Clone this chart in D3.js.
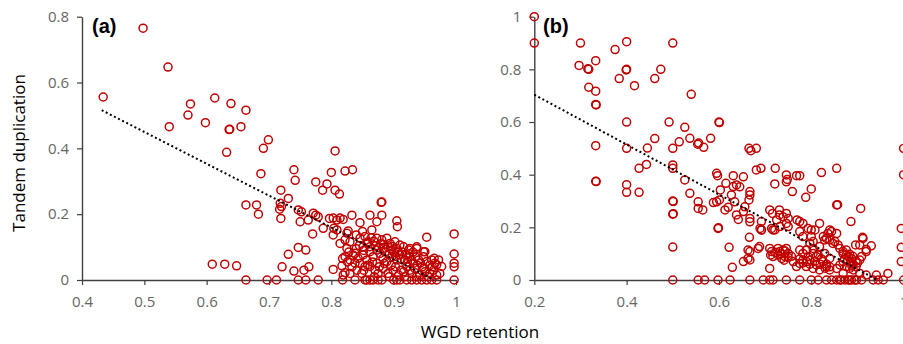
<!DOCTYPE html>
<html>
<head>
<meta charset="utf-8">
<script src="https://cdn.jsdelivr.net/npm/d3@7"></script>
<style>
  body { margin: 0; background: #fff; }
  #chart { width: 903px; height: 344px; }
</style>
</head>
<body>
<div id="chart"></div>
<script>
// panel (a): [WGD retention, tandem duplication]
const pointsA = [
  [0.434, 0.556], [0.498, 0.765], [0.538, 0.647], [0.540, 0.466], [0.570, 0.501], [0.574, 0.535],
  [0.598, 0.478], [0.613, 0.553], [0.639, 0.536], [0.636, 0.457], [0.637, 0.458], [0.655, 0.466],
  [0.663, 0.516], [0.632, 0.388], [0.699, 0.426], [0.691, 0.400], [0.806, 0.392], [0.687, 0.323],
  [0.740, 0.335], [0.800, 0.327], [0.822, 0.331], [0.834, 0.335], [0.742, 0.303], [0.775, 0.298],
  [0.793, 0.292], [0.786, 0.273], [0.806, 0.273], [0.813, 0.261], [0.719, 0.273], [0.731, 0.248],
  [0.718, 0.233], [0.720, 0.223], [0.717, 0.215], [0.719, 0.187], [0.663, 0.228], [0.680, 0.228],
  [0.683, 0.200], [0.747, 0.213], [0.752, 0.207], [0.750, 0.177], [0.763, 0.182], [0.771, 0.203],
  [0.775, 0.197], [0.779, 0.192], [0.770, 0.140], [0.787, 0.157], [0.797, 0.187], [0.809, 0.182],
  [0.804, 0.157], [0.809, 0.152], [0.819, 0.184], [0.833, 0.197], [0.827, 0.149], [0.846, 0.174],
  [0.862, 0.197], [0.873, 0.177], [0.880, 0.236], [0.881, 0.237], [0.881, 0.197], [0.865, 0.152],
  [0.905, 0.180], [0.906, 0.162], [0.953, 0.130], [0.997, 0.140], [0.997, 0.079], [0.997, 0.051],
  [0.997, 0.040], [0.609, 0.048], [0.629, 0.048], [0.648, 0.043], [0.731, 0.078], [0.747, 0.099],
  [0.759, 0.091], [0.721, 0.040], [0.740, 0.027], [0.756, 0.030], [0.764, 0.040], [0.803, 0.032],
  [0.817, 0.043], [0.822, 0.022], [0.803, 0.188], [0.814, 0.188], [0.803, 0.137],
  // dense cluster
  [0.825, 0.142], [0.822, 0.122], [0.814, 0.111], [0.830, 0.116], [0.840, 0.137], [0.846, 0.127],
  [0.850, 0.147], [0.854, 0.132], [0.859, 0.116], [0.862, 0.101], [0.873, 0.127], [0.881, 0.122],
  [0.889, 0.127], [0.894, 0.111], [0.902, 0.116], [0.910, 0.106], [0.916, 0.101], [0.924, 0.091],
  [0.926, 0.096], [0.937, 0.096], [0.948, 0.086], [0.825, 0.096], [0.822, 0.071], [0.830, 0.061],
  [0.838, 0.081], [0.843, 0.066], [0.851, 0.076], [0.857, 0.061], [0.862, 0.086], [0.867, 0.071],
  [0.873, 0.051], [0.878, 0.081], [0.883, 0.066], [0.889, 0.056], [0.897, 0.071], [0.905, 0.061],
  [0.910, 0.076], [0.918, 0.061], [0.926, 0.071], [0.932, 0.051], [0.940, 0.061], [0.948, 0.071],
  [0.953, 0.056], [0.961, 0.061], [0.966, 0.051], [0.972, 0.061], [0.977, 0.041], [0.965, 0.066],
  [0.862, 0.041], [0.870, 0.030], [0.875, 0.020], [0.883, 0.035], [0.891, 0.020], [0.899, 0.030],
  [0.908, 0.015], [0.916, 0.025], [0.921, 0.041], [0.929, 0.020], [0.934, 0.035], [0.942, 0.015],
  [0.950, 0.025], [0.958, 0.020], [0.964, 0.030], [0.969, 0.015], [0.974, 0.020], [0.841, 0.030],
  [0.849, 0.020], [0.854, 0.041], [0.838, 0.051], [0.851, 0.101], [0.873, 0.091], [0.883, 0.096],
  [0.897, 0.091], [0.905, 0.096],
  [0.845, 0.105], [0.852, 0.090], [0.858, 0.112], [0.864, 0.128], [0.868, 0.118], [0.871, 0.104],
  [0.876, 0.098], [0.879, 0.110], [0.884, 0.108], [0.887, 0.085], [0.891, 0.100], [0.893, 0.078],
  [0.898, 0.102], [0.900, 0.085], [0.903, 0.072], [0.907, 0.088], [0.912, 0.064], [0.914, 0.085],
  [0.920, 0.076], [0.922, 0.055], [0.925, 0.080], [0.928, 0.060], [0.931, 0.085], [0.935, 0.070],
  [0.938, 0.045], [0.943, 0.052], [0.946, 0.040], [0.950, 0.086], [0.937, 0.101], [0.958, 0.045],
  [0.969, 0.046], [0.846, 0.050], [0.852, 0.030], [0.858, 0.045], [0.866, 0.055], [0.869, 0.010],
  [0.877, 0.040], [0.885, 0.050], [0.893, 0.010], [0.896, 0.045], [0.903, 0.040], [0.912, 0.030],
  [0.918, 0.010], [0.926, 0.030], [0.937, 0.010], [0.948, 0.035], [0.955, 0.010], [0.962, 0.040],
  [0.840, 0.095], [0.835, 0.075], [0.828, 0.085], [0.833, 0.040], [0.826, 0.055], [0.818, 0.065],
  [0.830, 0.020], [0.819, 0.015],
  // zero row
  [0.663, 0], [0.697, 0], [0.712, 0], [0.747, 0], [0.759, 0], [0.779, 0], [0.818, 0], [0.838, 0],
  [0.854, 0], [0.857, 0], [0.862, 0], [0.867, 0], [0.875, 0], [0.881, 0], [0.900, 0], [0.905, 0],
  [0.910, 0], [0.921, 0], [0.929, 0], [0.937, 0], [0.945, 0], [0.953, 0], [0.961, 0], [0.969, 0],
  [0.997, 0]
];

// panel (b)
const pointsB = [
  [0.200, 1.000], [0.200, 0.900], [0.300, 0.900], [0.297, 0.815], [0.318, 0.800], [0.316, 0.802],
  [0.333, 0.833], [0.318, 0.732], [0.333, 0.717], [0.333, 0.667], [0.334, 0.665], [0.333, 0.510],
  [0.375, 0.875], [0.400, 0.905], [0.400, 0.800], [0.399, 0.798], [0.384, 0.765], [0.417, 0.738],
  [0.461, 0.765], [0.474, 0.800], [0.500, 0.900], [0.400, 0.600], [0.400, 0.500], [0.461, 0.537],
  [0.445, 0.501], [0.427, 0.424], [0.443, 0.439], [0.492, 0.600], [0.500, 0.500], [0.514, 0.525],
  [0.526, 0.580], [0.537, 0.538], [0.540, 0.705], [0.500, 0.437], [0.500, 0.424],
  [0.333, 0.375], [0.334, 0.374], [0.400, 0.362], [0.400, 0.333], [0.427, 0.333], [0.526, 0.380],
  [0.537, 0.329], [0.500, 0.300], [0.501, 0.298], [0.500, 0.250], [0.501, 0.252], [0.500, 0.125],
  [0.600, 0.600], [0.601, 0.598], [0.556, 0.520], [0.554, 0.516], [0.567, 0.504], [0.582, 0.538],
  [0.665, 0.500], [0.669, 0.491], [0.681, 0.500], [0.681, 0.418], [0.691, 0.424], [0.722, 0.424],
  [0.822, 0.408], [0.855, 0.424], [1.000, 0.500], [1.000, 0.400], [0.595, 0.405], [0.597, 0.396],
  [0.631, 0.396], [0.653, 0.392], [0.746, 0.399], [0.768, 0.396], [0.775, 0.396],
  [0.555, 0.297], [0.555, 0.272], [0.565, 0.266], [0.598, 0.196], [0.599, 0.198], [0.588, 0.294],
  [0.595, 0.297], [0.601, 0.304], [0.603, 0.342], [0.615, 0.367], [0.622, 0.124], [0.613, 0.266],
  [0.620, 0.276], [0.627, 0.323], [0.631, 0.355], [0.638, 0.361], [0.634, 0.297], [0.645, 0.354],
  [0.638, 0.247], [0.642, 0.230], [0.653, 0.260], [0.656, 0.278], [0.667, 0.336], [0.667, 0.323],
  [0.665, 0.304], [0.667, 0.234], [0.667, 0.221], [0.666, 0.162], [0.663, 0.114], [0.667, 0.108],
  [0.663, 0.082], [0.667, 0.076], [0.653, 0.070], [0.629, 0.048], [0.685, 0.120], [0.689, 0.196],
  [0.692, 0.190], [0.721, 0.365], [0.746, 0.373], [0.748, 0.382], [0.759, 0.336], [0.788, 0.314],
  [0.800, 0.346], [0.855, 0.285], [0.857, 0.286], [0.907, 0.272], [0.886, 0.222], [0.995, 0.196],
  [0.995, 0.124], [0.995, 0.070], [0.710, 0.266], [0.716, 0.253], [0.731, 0.266], [0.731, 0.247],
  [0.739, 0.240], [0.725, 0.228], [0.746, 0.253], [0.750, 0.234], [0.746, 0.215], [0.750, 0.203],
  [0.714, 0.196], [0.721, 0.190], [0.732, 0.203], [0.710, 0.120], [0.714, 0.108], [0.712, 0.095],
  [0.717, 0.089], [0.728, 0.120], [0.732, 0.108], [0.739, 0.114], [0.746, 0.120], [0.750, 0.101],
  [0.736, 0.082], [0.743, 0.089], [0.710, 0.044], [0.769, 0.228], [0.775, 0.222], [0.775, 0.184],
  [0.782, 0.165], [0.793, 0.196], [0.800, 0.190], [0.800, 0.165], [0.804, 0.146], [0.818, 0.215],
  [0.826, 0.165], [0.833, 0.158], [0.840, 0.152], [0.847, 0.139], [0.836, 0.177], [0.844, 0.184],
  [0.855, 0.177], [0.851, 0.146], [0.858, 0.133], [0.862, 0.120], [0.869, 0.108], [0.876, 0.114],
  [0.880, 0.089], [0.887, 0.082], [0.896, 0.133], [0.905, 0.133], [0.911, 0.162], [0.930, 0.130],
  [0.919, 0.116], [0.909, 0.089], [0.905, 0.076], [0.888, 0.053], [0.883, 0.044], [0.966, 0.025],
  [0.761, 0.070], [0.768, 0.051], [0.775, 0.063], [0.782, 0.076], [0.789, 0.051], [0.797, 0.076],
  [0.804, 0.044], [0.811, 0.057], [0.818, 0.038], [0.833, 0.051], [0.840, 0.038], [0.855, 0.044],
  [0.862, 0.057], [0.869, 0.025], [0.876, 0.051], [0.891, 0.038], [0.775, 0.114], [0.782, 0.101],
  [0.789, 0.114], [0.793, 0.089], [0.804, 0.101], [0.811, 0.089], [0.818, 0.127], [0.829, 0.101],
  [0.840, 0.082], [0.826, 0.070], [0.905, 0.025], [0.919, 0.019], [0.941, 0.019],
  [0.692, 0.222], [0.692, 0.190], [0.717, 0.190], [0.782, 0.215], [0.808, 0.190], [0.840, 0.190],
  [0.829, 0.152], [0.790, 0.114], [0.797, 0.139], [0.804, 0.120], [0.688, 0.127], [0.722, 0.105],
  [0.728, 0.095], [0.735, 0.100], [0.743, 0.110], [0.750, 0.085], [0.741, 0.075], [0.757, 0.090],
  [0.912, 0.158], [0.919, 0.108], [0.869, 0.100], [0.876, 0.095], [0.883, 0.098], [0.890, 0.090],
  [0.872, 0.080], [0.879, 0.075], [0.886, 0.070], [0.897, 0.072], [0.890, 0.060], [0.900, 0.065],
  [0.869, 0.070], [0.897, 0.050], [0.815, 0.095], [0.822, 0.080], [0.808, 0.070], [0.819, 0.060],
  [0.833, 0.060], [0.840, 0.050], [0.830, 0.045], [0.797, 0.060], [0.790, 0.070], [0.782, 0.065],
  [0.775, 0.080],
  // zero row
  [0.500, 0], [0.555, 0], [0.569, 0], [0.598, 0], [0.624, 0], [0.667, 0], [0.696, 0], [0.710, 0],
  [0.717, 0], [0.746, 0], [0.775, 0], [0.800, 0], [0.815, 0], [0.833, 0], [0.844, 0], [0.855, 0],
  [0.862, 0], [0.865, 0], [0.873, 0], [0.880, 0], [0.883, 0], [0.887, 0], [0.894, 0], [0.898, 0],
  [0.909, 0], [0.934, 0], [0.945, 0], [0.956, 0], [1.000, 0]
];

// linear trend lines (start, end where they hit 0)
const trendA = [[0.4316, 0.516], [0.965, 0]];
const trendB = [[0.2, 0.704], [0.943, 0]];

const xTicksA = [0.4, 0.5, 0.6, 0.7, 0.8, 0.9, 1];
const yTicksA = [0, 0.2, 0.4, 0.6, 0.8];
const xTicksB = [0.2, 0.4, 0.6, 0.8, 1];
const yTicksB = [0, 0.2, 0.4, 0.6, 0.8, 1];

const width = 903;
const height = 344;
const tickFmt = d => (d === 0 || d === 1) ? String(d) : d.toFixed(1);

const svg = d3
  .select('#chart')
  .append('svg')
  .attr('width', width)
  .attr('height', height);

function drawPanel(opts) {
  const xScale = d3.scaleLinear().domain(opts.xDomain).range(opts.xRange);
  const yScale = d3.scaleLinear().domain(opts.yDomain).range([280, 16.7]);

  const g = svg.append('g');

  const yAxis = g
    .append('g')
    .attr('transform', `translate(${opts.xRange[0]},0)`)
    .call(d3.axisLeft(yScale).tickValues(opts.yTicks).tickFormat(tickFmt).tickSize(5).tickSizeOuter(0).tickPadding(8));

  const xAxis = g
    .append('g')
    .attr('transform', `translate(0,${yScale(0)})`)
    .call(d3.axisBottom(xScale).tickValues(opts.xTicks).tickFormat(tickFmt).tickSize(5).tickSizeOuter(0).tickPadding(11));

  [xAxis, yAxis].forEach(a => {
    a.select('.domain').attr('stroke', '#404040').attr('stroke-width', 1.4);
    a.selectAll('.tick line').attr('stroke', '#404040').attr('stroke-width', 1.2);
    a.selectAll('text')
      .attr('fill', '#666666')
      .attr('font-family', 'Open Sans, sans-serif')
      .attr('font-size', 15);
  });

  // markers
  g.selectAll('circle')
    .data(opts.points)
    .enter()
    .append('circle')
    .attr('cx', d => xScale(d[0]))
    .attr('cy', d => yScale(d[1]))
    .attr('r', 4)
    .attr('fill', 'none')
    .attr('stroke', '#C00000')
    .attr('stroke-width', 1.5);

  // trend line
  const lineFunc = d3.line().x(d => xScale(d[0])).y(d => yScale(d[1]));
  g.append('path')
    .attr('d', lineFunc(opts.trend))
    .attr('stroke', '#000')
    .attr('stroke-width', 2)
    .attr('stroke-dasharray', '2,2.6')
    .attr('fill', 'none');

  // panel label
  g.append('text')
    .attr('x', opts.labelX)
    .attr('y', 33)
    .attr('font-family', 'Liberation Sans, Arial, sans-serif')
    .attr('font-weight', 'bold')
    .attr('font-size', 20)
    .attr('fill', '#000')
    .text(opts.label);
}

drawPanel({
  points: pointsA, trend: trendA, xDomain: [0.4, 1], xRange: [82, 456],
  yDomain: [0, 0.8], xTicks: xTicksA, yTicks: yTicksA, label: '(a)', labelX: 92
});

drawPanel({
  points: pointsB, trend: trendB, xDomain: [0.2, 1], xRange: [534.3, 903.6],
  yDomain: [0, 1], xTicks: xTicksB, yTicks: yTicksB, label: '(b)', labelX: 543
});

// axis titles
svg.append('text')
  .attr('x', 480)
  .attr('y', 338)
  .attr('text-anchor', 'middle')
  .attr('font-family', 'Open Sans, sans-serif')
  .attr('font-size', 17)
  .attr('fill', '#000')
  .text('WGD retention');

svg.append('text')
  .attr('transform', 'rotate(-90)')
  .attr('x', -153)
  .attr('y', 25)
  .attr('text-anchor', 'middle')
  .attr('font-family', 'Open Sans, sans-serif')
  .attr('font-size', 17)
  .attr('fill', '#000')
  .text('Tandem duplication');
</script>
</body>
</html>
